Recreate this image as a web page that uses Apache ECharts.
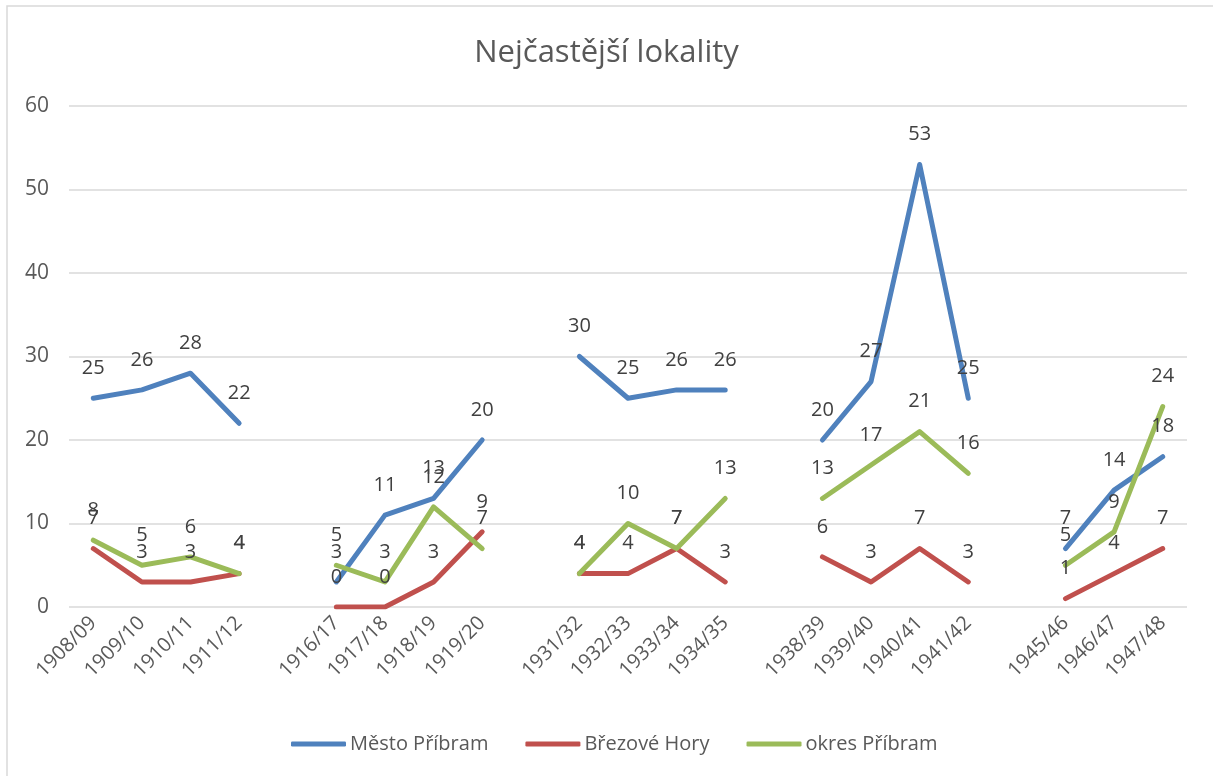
<!DOCTYPE html>
<html>
<head>
<meta charset="utf-8">
<script src="https://cdn.jsdelivr.net/npm/echarts@6/dist/echarts.min.js"></script>
<style>
  html, body { margin: 0; padding: 0; background: #fff; }
  #chart { width: 1213px; height: 776px; }
</style>
</head>
<body>
<div id="chart"></div>
<script>
// empty strings are the gaps between the groups of years
const categories = [
  '1908/09', '1909/10', '1910/11', '1911/12', '',
  '1916/17', '1917/18', '1918/19', '1919/20', '',
  '1931/32', '1932/33', '1933/34', '1934/35', '',
  '1938/39', '1939/40', '1940/41', '1941/42', '',
  '1945/46', '1946/47', '1947/48'
];
const mestoPribram = [25, 26, 28, 22, null, 3, 11, 13, 20, null, 30, 25, 26, 26, null, 20, 27, 53, 25, null, 7, 14, 18];
const brezoveHory = [7, 3, 3, 4, null, 0, 0, 3, 9, null, 4, 4, 7, 3, null, 6, 3, 7, 3, null, 1, 4, 7];
const okresPribram = [8, 5, 6, 4, null, 5, 3, 12, 7, null, 4, 10, 7, 13, null, 13, 17, 21, 16, null, 5, 9, 24];

const font = '"Open Sans", "Noto Sans", sans-serif';

function lineSeries(name, data, color) {
  return {
    name: name,
    type: 'line',
    data: data,
    symbol: 'circle',
    symbolSize: 0,
    showSymbol: true,
    connectNulls: false,
    lineStyle: { color: color, width: 5, cap: 'round', join: 'round' },
    itemStyle: { color: color },
    label: {
      show: true,
      position: 'top',
      distance: 20,
      color: '#404040',
      fontSize: 20,
      fontFamily: font
    },
    emphasis: { disabled: true }
  };
}

const chart = echarts.init(document.getElementById('chart'));
chart.setOption({
  animation: false,
  backgroundColor: '#fff',
  title: {
    text: 'Nejčastější lokality',
    left: 'center',
    top: 33,
    textStyle: { color: '#595959', fontSize: 31, fontWeight: 'normal', fontFamily: font }
  },
  // chart frame: only the top and left edges are inside the picture
  graphic: [{
    type: 'polyline',
    shape: { points: [[7, 776], [7, 6], [1213, 6]] },
    style: { fill: 'none', stroke: '#d9d9d9', lineWidth: 1.5 },
    silent: true
  }],
  legend: {
    bottom: 17,
    left: 286,
    icon: 'roundRect',
    itemWidth: 55,
    itemHeight: 5,
    itemGap: 37,
    textStyle: { color: '#595959', fontSize: 20, fontFamily: font, padding: [0, 0, 0, -1] },
    data: ['Město Příbram', 'Březové Hory', 'okres Příbram']
  },
  grid: { left: 69, right: 26, top: 106, bottom: 169, containLabel: false },
  xAxis: {
    type: 'category',
    data: categories,
    boundaryGap: true,
    axisLine: { show: false },
    axisTick: { show: false },
    axisLabel: {
      interval: 0,
      rotate: 45,
      margin: 13,
      color: '#595959',
      fontSize: 20,
      fontFamily: font
    }
  },
  yAxis: {
    type: 'value',
    min: 0,
    max: 60,
    interval: 10,
    axisLine: { show: false },
    axisTick: { show: false },
    axisLabel: { color: '#595959', fontSize: 21, fontFamily: font, margin: 20 },
    splitLine: { lineStyle: { color: '#d9d9d9', width: 1.5 } }
  },
  series: [
    lineSeries('Město Příbram', mestoPribram, '#4f81bd'),
    lineSeries('Březové Hory', brezoveHory, '#c0504d'),
    lineSeries('okres Příbram', okresPribram, '#9bbb59')
  ]
});
</script>
</body>
</html>
